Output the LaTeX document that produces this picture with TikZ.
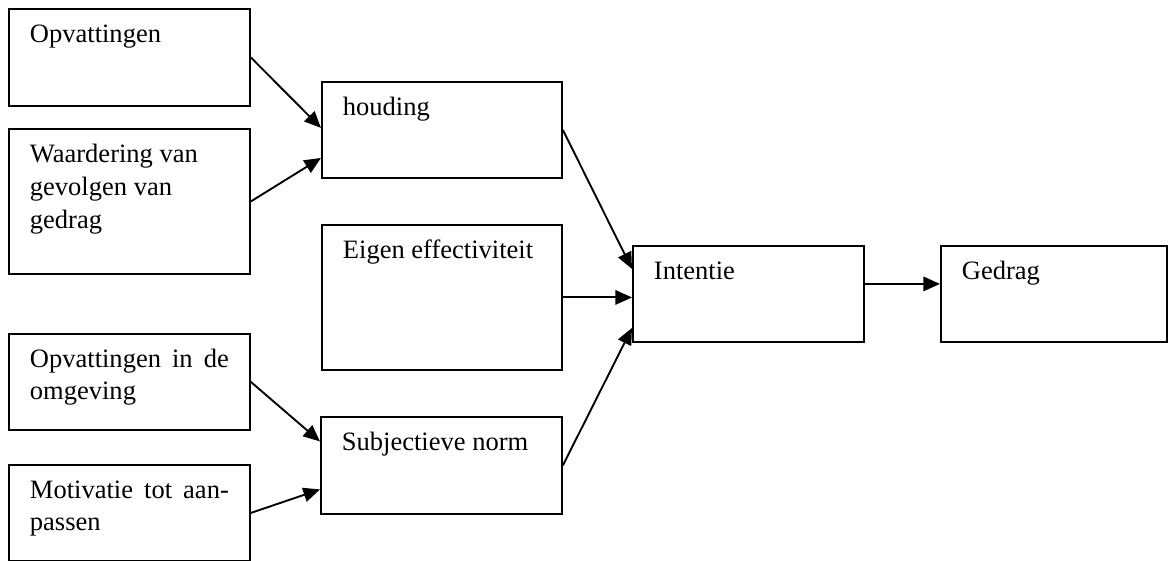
\documentclass[tikz,border=0pt]{standalone}
\usepackage{fontspec}
\setmainfont{Liberation Serif}
\usetikzlibrary{arrows.meta}

\newcommand{\px}{0.4525pt}

\begin{document}
\begin{tikzpicture}[x=\px,y=-\px,
        -{Triangle[length=7.5pt,width=6.5pt]},line width=0.85pt,
        boxNode/.style = {draw,line width=0.85pt,inner sep=0pt,anchor=north west,minimum width=241*\px,minimum height=97*\px},
        tallNode/.style = {boxNode,minimum height=145*\px},
        textNode/.style = {anchor=base west,inner sep=0pt,text width=90pt,align=justify,font=\fontsize{12}{14.2}\selectfont} % text sits at top left of its box
        ]
        \useasboundingbox (0,0) rectangle (1169,561);
        % left column
        \node[boxNode] (opv) at (8,8) {};
        \node[tallNode] (waard) at (8,128) {};
        \node[boxNode,minimum height=96*\px] (omg) at (8,333) {};
        \node[boxNode,minimum height=96*\px] (motiv) at (8,464) {};
        % middle column
        \node[boxNode,minimum width=240*\px,minimum height=96*\px] (houding) at (321,81) {};
        \node[tallNode,minimum width=240*\px] (eigen) at (321,224) {};
        \node[boxNode] (subj) at (320,416) {};
        % right
        \node[boxNode,minimum width=231*\px,minimum height=96*\px] (intentie) at (632,245) {};
        \node[boxNode,minimum width=226*\px,minimum height=96*\px] (gedrag) at (940,245) {};

        \node[textNode] (tOpv) at ([shift={(21,35)}]opv.north west) {Opvattingen};
        \node[textNode] (tWaard) at ([shift={(21,35)}]waard.north west) {Waardering van\\[0.6pt]gevolgen van\\[0.6pt]gedrag};
        \node[textNode] (tOmg) at ([shift={(21,35)}]omg.north west) {Opvattingen in de\linebreak omgeving};
        \node[textNode] (tMotiv) at ([shift={(21,35)}]motiv.north west) {Motivatie tot aan-\linebreak passen};
        \node[textNode] (tHouding) at ([shift={(21,35)}]houding.north west) {houding};
        \node[textNode] (tEigen) at ([shift={(21,35)}]eigen.north west) {Eigen effectiviteit};
        \node[textNode] (tSubj) at ([shift={(21,35)}]subj.north west) {Subjectieve norm};
        \node[textNode] (tIntentie) at ([shift={(21,35)}]intentie.north west) {Intentie};
        \node[textNode] (tGedrag) at ([shift={(21,35)}]gedrag.north west) {Gedrag};

        \draw (opv.east) -- ([shift={(0,-2)}]houding.west);
        \draw (waard.east) -- ([shift={(0,28)}]houding.west);
        \draw (omg.east) -- ([shift={(0,-24)}]subj.west);
        \draw (motiv.east) -- ([shift={(0,24)}]subj.west);
        \draw (houding.east) -- ([shift={(0,-25)}]intentie.west);
        \draw (eigen.east) -- (intentie.west |- eigen.east);
        \draw (subj.east) -- ([shift={(0,34)}]intentie.west);
        \draw ([shift={(0,-10)}]intentie.east) -- ([shift={(0,-10)}]gedrag.west);
    \end{tikzpicture}
\end{document}
